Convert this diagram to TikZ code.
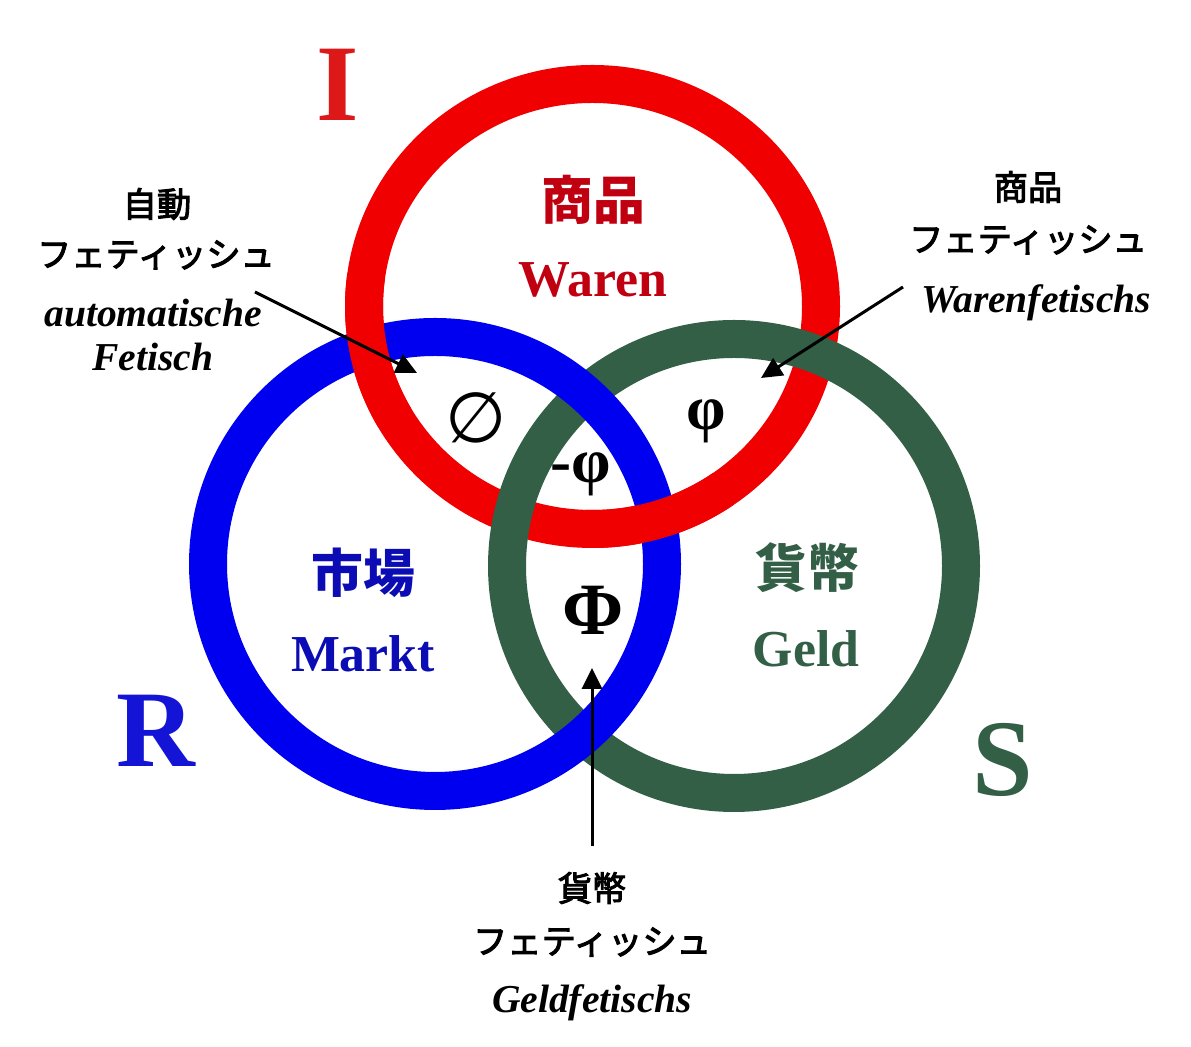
\documentclass[tikz,border=0pt]{standalone}
\usepackage{fontspec}
\usepackage{tikz}
\usetikzlibrary{arrows.meta,positioning}
\setmainfont{Liberation Serif}
\newfontfamily\jpfont{Noto Sans CJK JP}
\newfontface\jpnote{Noto Sans CJK JP}[FakeBold=3]
\newfontfamily\symfont{DejaVu Sans}
\definecolor{ringred}{RGB}{240,0,0}
\definecolor{ringblue}{RGB}{0,0,240}
\definecolor{ringgreen}{RGB}{50,95,70}
\definecolor{txtred}{RGB}{192,0,16}
\definecolor{txtblue}{RGB}{12,12,180}
\definecolor{letterred}{RGB}{220,24,24}
\definecolor{letterblue}{RGB}{20,20,215}

\begin{document}
\begin{tikzpicture}[every node/.style={inner sep=0pt},
	ring/.style={line width=0.76cm},
	bigletter/.style={font=\fontsize{62}{62}\selectfont\bfseries},
	kanji/.style={font=\fontsize{29.5}{30}\selectfont\jpfont\bfseries},
	ringname/.style={font=\fontsize{29.5}{30}\selectfont\bfseries, anchor=base},
	greek/.style={font=\fontsize{36}{36}\selectfont\bfseries},
	notejp/.style={font=\fontsize{19.5}{20}\selectfont\jpnote},
	notede/.style={font=\fontsize{22.5}{23}\selectfont\bfseries\itshape, anchor=base},
	pointer/.style={-{Triangle[length=0.42cm,width=0.4cm]}, line width=0.06cm}]
	\useasboundingbox (0,0) rectangle (23.82,20.94);
	\coordinate (cI) at (11.85,14.81);
	\coordinate (cR) at (8.70,9.66);
	\coordinate (cS) at (14.68,9.62);
	% rings (Borromean weave)
	\draw[ring, ringred] (cI) ellipse [x radius=4.57, y radius=4.45];
	\draw[ring, ringgreen] (cS) circle [radius=4.54];
	\draw[ring, ringblue] (cR) circle [radius=4.54];
	\draw[ring, ringred] (cI) ++(172:4.57cm and 4.45cm) arc [start angle=172, end angle=210, x radius=4.57, y radius=4.45];
	\draw[ring, ringred] (cI) ++(-92:4.57cm and 4.45cm) arc [start angle=-92, end angle=-55, x radius=4.57, y radius=4.45];
	% big letters
	\node[bigletter, text=letterred] (I) at (6.76,19.24) {I};
	\node[bigletter, text=letterblue] (R) at (3.12,6.32) {R};
	\node[bigletter, text=ringgreen] (S) at (20.06,5.74) {S};
	% ring labels
	\node[kanji, text=txtred] (warenjp) at (11.86,16.94) {商品};
	\node[ringname, text=txtred] (waren) at (11.86,15.00) {Waren};
	\node[kanji, text=txtblue] (marktjp) at (7.26,9.48) {市場};
	\node[ringname, text=txtblue] (markt) at (7.26,7.50) {Markt};
	\node[kanji, text=ringgreen] (geldjp) at (16.14,9.58) {貨幣};
	\node[ringname, text=ringgreen] (geld) at (16.12,7.60) {Geld};
	% symbols
	\node[font=\fontsize{40}{40}\selectfont\symfont] (empty) at (9.52,12.58) {∅};
	\node[greek] (phi) at (14.12,12.52) {φ};
	\node[greek] (mphi) at (11.62,11.46) {-φ};
	\node[greek, font=\fontsize{42}{42}\selectfont\bfseries] (Phi) at (11.86,8.74) {Φ};
	% notes
	\node[notejp] (autojp) at (3.14,16.86) {自動};
	\node[notejp] (autofet) at (3.12,15.84) {フェティッシュ};
	\node[notede] (autode) at (3.06,14.40) {automatische};
	\node[notede] (autode2) at (3.06,13.52) {Fetisch};
	\node[notejp] (warejp) at (20.56,17.20) {商品};
	\node[notejp] (warefet) at (20.56,16.14) {フェティッシュ};
	\node[notede] (warede) at (20.72,14.68) {Warenfetischs};
	\node[notejp] (moneyjp) at (11.84,3.18) {貨幣};
	\node[notejp] (moneyfet) at (11.84,2.10) {フェティッシュ};
	\node[notede] (moneyde) at (11.84,0.68) {Geldfetischs};
	% arrows
	\coordinate (autotail) at (5.10,15.10);
	\coordinate (autotip) at (8.34,13.48);
	\coordinate (waretail) at (18.06,15.20);
	\coordinate (waretip) at (15.22,13.38);
	\coordinate (moneytail) at (11.84,4.02);
	\coordinate (moneytip) at (11.84,7.58);
	\draw[pointer] (autotail) -- (autotip);
	\draw[pointer] (waretail) -- (waretip);
	\draw[pointer] (moneytail) -- (moneytip);
\end{tikzpicture}
\end{document}
